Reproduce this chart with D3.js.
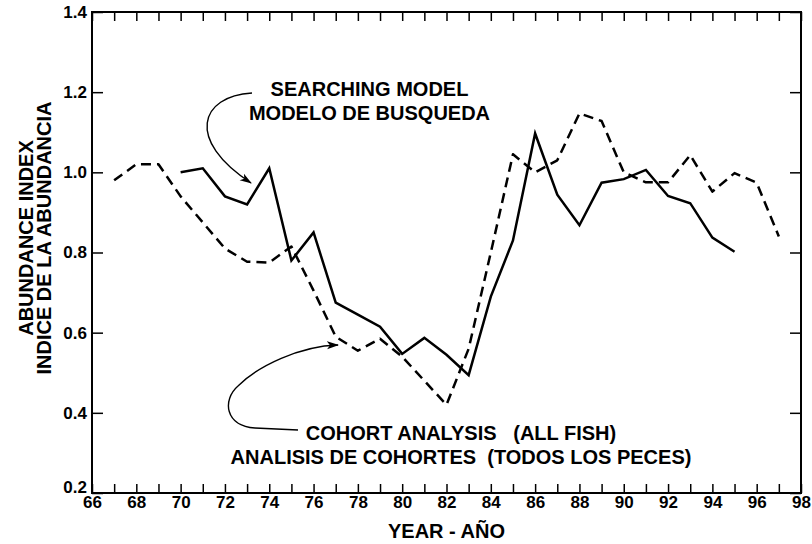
<!DOCTYPE html>
<html>
<head>
<meta charset="utf-8">
<script src="https://cdn.jsdelivr.net/npm/d3@7"></script>
<style>
  body { margin: 0; background: #fff; }
  svg { display: block; font-family: "Liberation Sans", Arial, Helvetica, sans-serif; font-weight: bold; }
  .tick line { stroke: #000; stroke-width: 1.5; }
  .tick text { font-size: 17px; fill: #000; }
  .label { font-size: 20px; fill: #000; white-space: pre; }
</style>
</head>
<body>
<div id="chart"></div>
<script>
// Searching model (solid), 1970-1995
const searchingYears = d3.range(70, 96);
const searchingModel = [1.00, 1.01, 0.94, 0.92, 1.01, 0.78, 0.85, 0.675, 0.645, 0.615,
  0.547, 0.587, 0.545, 0.494, 0.69, 0.83, 1.097, 0.944, 0.868, 0.974,
  0.983, 1.006, 0.941, 0.923, 0.837, 0.802];

// Cohort analysis (dashed), 1967-1997
const cohortYears = d3.range(67, 98);
const cohortAnalysis = [0.98, 1.02, 1.02, 0.94, 0.875, 0.81, 0.777, 0.775, 0.815, 0.705,
  0.59, 0.555, 0.585, 0.54, 0.48, 0.42, 0.56, 0.80, 1.045, 1.0,
  1.03, 1.147, 1.128, 1.0, 0.975, 0.975, 1.043, 0.952, 0.998, 0.974, 0.84];

const xTicks = d3.range(66, 99);
const yTicks = [0.2, 0.4, 0.6, 0.8, 1.0, 1.2, 1.4];

const width = 812, height = 544;
const margin = { top: 12, right: 11, bottom: 51, left: 92 };

const svg = d3.select("#chart").append("svg")
  .attr("width", width)
  .attr("height", height);

const x = d3.scaleLinear().domain([66, 98]).range([margin.left, width - margin.right]);
const y = d3.scaleLinear().domain([0.2, 1.4]).range([height - margin.bottom, margin.top]);

// axes, ticks pointing inward
const xBottom = svg.append("g")
  .attr("transform", `translate(0,${y(0.2)})`)
  .call(d3.axisBottom(x).tickValues(xTicks).tickSize(-9).tickPadding(3)
    .tickFormat(d => d % 2 === 0 ? d : ""));
svg.append("g")
  .attr("transform", `translate(0,${y(1.4)})`)
  .call(d3.axisTop(x).tickValues(xTicks).tickSize(-9).tickFormat(""));
const yLeft = svg.append("g")
  .attr("transform", `translate(${x(66)},0)`)
  .call(d3.axisLeft(y).tickValues(yTicks).tickSize(-11).tickPadding(5)
    .tickFormat(d3.format(".1f")));
svg.append("g")
  .attr("transform", `translate(${x(98)},0)`)
  .call(d3.axisRight(y).tickValues(yTicks).tickSize(-11).tickFormat(""));

svg.selectAll(".domain").remove();

// 0.2 label sits a bit higher so it clears the 66
yLeft.selectAll(".tick text").filter(d => d === 0.2).attr("dy", "-0.05em");

// frame
svg.append("rect")
  .attr("x", x(66)).attr("y", y(1.4))
  .attr("width", x(98) - x(66)).attr("height", y(0.2) - y(1.4))
  .attr("fill", "none").attr("stroke", "#000").attr("stroke-width", 2);

// lines
const line = d3.line().x(d => x(d[0])).y(d => y(d[1]));

svg.append("path")
  .datum(cohortYears.map((yr, i) => [yr, cohortAnalysis[i]]))
  .attr("d", line)
  .attr("fill", "none").attr("stroke", "#000").attr("stroke-width", 2.5)
  .attr("stroke-dasharray", "10,6").attr("stroke-linejoin", "round");

svg.append("path")
  .datum(searchingYears.map((yr, i) => [yr, searchingModel[i]]))
  .attr("d", line)
  .attr("fill", "none").attr("stroke", "#000").attr("stroke-width", 2.5)
  .attr("stroke-linejoin", "miter");

// arrow marker
svg.append("defs").append("marker")
  .attr("id", "arrow")
  .attr("viewBox", "0 0 12 10")
  .attr("refX", 11).attr("refY", 5)
  .attr("markerWidth", 12).attr("markerHeight", 10)
  .attr("markerUnits", "userSpaceOnUse")
  .attr("orient", "auto")
  .append("path")
  .attr("d", "M0,1 L12,5 L0,9 L3,5 Z")
  .attr("fill", "#000");

// annotations
svg.append("path")
  .attr("d", "M252,93 C200,96 185,140 251,183")
  .attr("fill", "none").attr("stroke", "#000").attr("stroke-width", 1.4)
  .attr("marker-end", "url(#arrow)");

svg.append("path")
  .attr("d", "M298,430 L255,428 C225,426 222,400 238,386 C258,366 300,346 338,345")
  .attr("fill", "none").attr("stroke", "#000").attr("stroke-width", 1.4)
  .attr("marker-end", "url(#arrow)");

svg.append("text").attr("class", "label")
  .attr("x", 369.5).attr("y", 96).attr("text-anchor", "middle")
  .text("SEARCHING MODEL");
svg.append("text").attr("class", "label")
  .attr("x", 369.5).attr("y", 120).attr("text-anchor", "middle")
  .text("MODELO DE BUSQUEDA");

svg.append("text").attr("class", "label")
  .attr("x", 461).attr("y", 440).attr("text-anchor", "middle")
  .text("COHORT ANALYSIS   (ALL FISH)");
svg.append("text").attr("class", "label")
  .attr("x", 461).attr("y", 464).attr("text-anchor", "middle")
  .text("ANALISIS DE COHORTES  (TODOS LOS PECES)");

// axis titles
svg.append("text").attr("class", "label")
  .attr("x", (x(66) + x(98)) / 2).attr("y", 538).attr("text-anchor", "middle")
  .text("YEAR - AÑO");

svg.append("text").attr("class", "label")
  .attr("transform", "translate(33,238) rotate(-90)").attr("text-anchor", "middle")
  .text("ABUNDANCE INDEX");
svg.append("text").attr("class", "label")
  .attr("transform", "translate(51,238) rotate(-90)").attr("text-anchor", "middle")
  .text("INDICE DE LA ABUNDANCIA");
</script>
</body>
</html>
